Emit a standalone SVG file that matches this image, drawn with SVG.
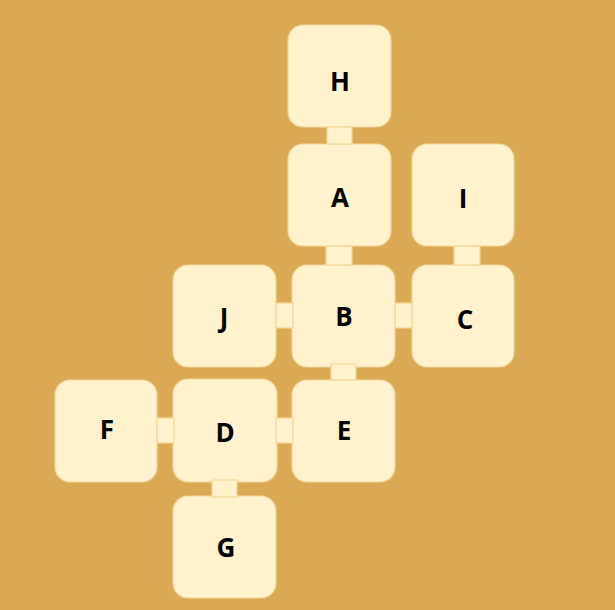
<svg xmlns="http://www.w3.org/2000/svg" width="615" height="610" viewBox="0 0 615 610">
<style>
.n{fill:#FFF2CC;stroke:#F2D79A;stroke-width:1.2}
.c{fill:#FFF2CC;stroke:#F2D79A;stroke-width:1.2}
.t{font-family:"Open Sans","Liberation Sans",sans-serif;font-weight:700;font-size:26px;fill:#000;text-anchor:middle}
</style>
<rect width="615" height="610" fill="#DBA853"/>
<g id="node-H"><rect class="n" x="288" y="25" width="103" height="102" rx="15"/><text class="t" x="340" y="91">H</text></g>
<g id="node-A"><rect class="n" x="288" y="144" width="103" height="102" rx="15"/><text class="t" x="340" y="207">A</text></g>
<g id="node-I"><rect class="n" x="412" y="144" width="102" height="102" rx="15"/><text class="t" x="463" y="208">I</text></g>
<g id="node-J"><rect class="n" x="173" y="265" width="103" height="102" rx="15"/><text class="t" x="224" y="327">J</text></g>
<g id="node-B"><rect class="n" x="292" y="265" width="103" height="102" rx="15"/><text class="t" x="344" y="326">B</text></g>
<g id="node-C"><rect class="n" x="412" y="265" width="102" height="102" rx="15"/><text class="t" x="465" y="329">C</text></g>
<g id="node-F"><rect class="n" x="55" y="380" width="102" height="102" rx="15"/><text class="t" x="107" y="439">F</text></g>
<g id="node-D"><rect class="n" x="173" y="379" width="104" height="103" rx="15"/><text class="t" x="225" y="442">D</text></g>
<g id="node-E"><rect class="n" x="292" y="380" width="103" height="102" rx="15"/><text class="t" x="344" y="440">E</text></g>
<g id="node-G"><rect class="n" x="173" y="496" width="103" height="102" rx="15"/><text class="t" x="226" y="557">G</text></g>
<g id="connectors">
<rect class="c" x="327" y="127" width="25" height="17"/>
<rect class="c" x="326" y="246" width="26" height="19"/>
<rect class="c" x="454" y="246" width="26" height="19"/>
<rect class="c" x="276" y="303" width="17" height="25"/>
<rect class="c" x="395" y="303" width="17" height="25"/>
<rect class="c" x="331" y="364" width="25" height="16"/>
<rect class="c" x="157" y="418" width="17" height="25"/>
<rect class="c" x="276" y="418" width="17" height="25"/>
<rect class="c" x="212" y="480" width="25" height="17"/>
</g>
</svg>
